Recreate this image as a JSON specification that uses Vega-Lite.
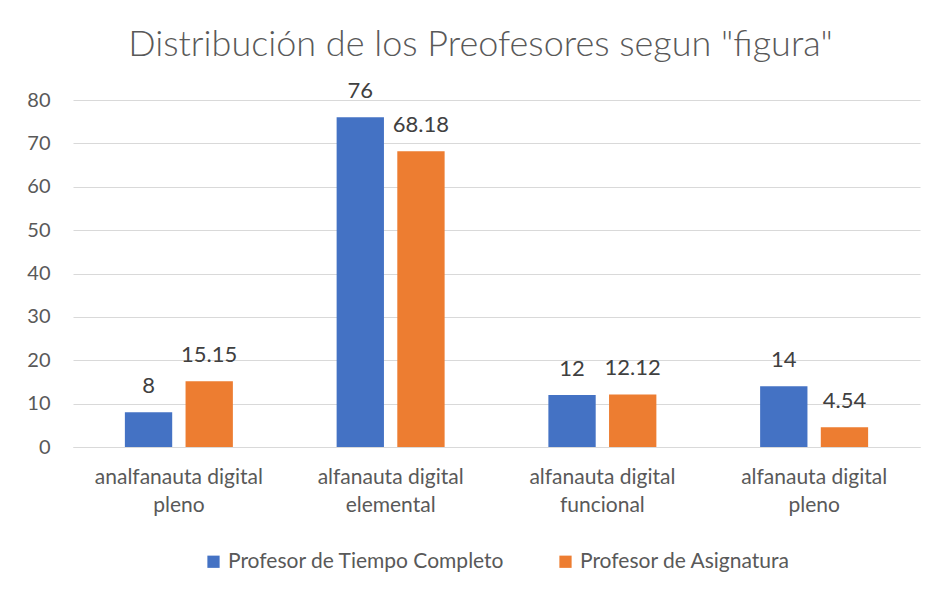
{
  "$schema": "https://vega.github.io/schema/vega-lite/v6.json",
  "width": 847,
  "height": 347,
  "autosize": {"type": "none"},
  "padding": {"left": 73, "top": 100, "right": 18, "bottom": 151},
  "background": "white",
  "title": {
    "text": "Distribución de los Preofesores segun \"figura\"",
    "anchor": "middle",
    "frame": "group",
    "dx": -16,
    "offset": 16,
    "font": "Lato",
    "fontSize": 36,
    "fontWeight": "300",
    "color": "#595959"
  },
  "data": {
    "values": [
      {"categoria": "analfanauta digital pleno", "serie": "Profesor de Tiempo Completo", "valor": 8},
      {"categoria": "analfanauta digital pleno", "serie": "Profesor de Asignatura", "valor": 15.15},
      {"categoria": "alfanauta digital elemental", "serie": "Profesor de Tiempo Completo", "valor": 76},
      {"categoria": "alfanauta digital elemental", "serie": "Profesor de Asignatura", "valor": 68.18},
      {"categoria": "alfanauta digital funcional", "serie": "Profesor de Tiempo Completo", "valor": 12},
      {"categoria": "alfanauta digital funcional", "serie": "Profesor de Asignatura", "valor": 12.12},
      {"categoria": "alfanauta digital pleno", "serie": "Profesor de Tiempo Completo", "valor": 14},
      {"categoria": "alfanauta digital pleno", "serie": "Profesor de Asignatura", "valor": 4.54}
    ]
  },
  "encoding": {
    "x": {
      "field": "categoria",
      "type": "nominal",
      "sort": null,
      "scale": {"paddingInner": 0.49, "paddingOuter": 0.245},
      "axis": {
        "title": null,
        "labelAngle": 0,
        "labelExpr": "split(replace(datum.label, 'digital ', 'digital|'), '|')",
        "labelFont": "Lato",
        "labelFontSize": 21,
        "labelColor": "#595959",
        "labelLineHeight": 28,
        "labelPadding": 19,
        "labelBaseline": "top",
        "labelLimit": 0,
        "ticks": false,
        "domain": true,
        "domainColor": "#d9d9d9",
        "domainWidth": 1,
        "grid": false
      }
    },
    "xOffset": {
      "field": "serie",
      "type": "nominal",
      "sort": ["Profesor de Tiempo Completo", "Profesor de Asignatura"],
      "scale": {"paddingInner": 0.22}
    },
    "y": {
      "field": "valor",
      "type": "quantitative",
      "scale": {"domain": [0, 80], "nice": false},
      "axis": {
        "title": null,
        "values": [0, 10, 20, 30, 40, 50, 60, 70, 80],
        "labelFont": "Lato",
        "labelFontSize": 20,
        "labelColor": "#595959",
        "labelPadding": 23,
        "ticks": false,
        "domain": false,
        "grid": true,
        "gridColor": "#d9d9d9",
        "gridWidth": 1
      }
    }
  },
  "layer": [
    {
      "mark": {"type": "bar"},
      "encoding": {
        "color": {
          "field": "serie",
          "type": "nominal",
          "sort": ["Profesor de Tiempo Completo", "Profesor de Asignatura"],
          "scale": {
            "domain": ["Profesor de Tiempo Completo", "Profesor de Asignatura"],
            "range": ["#4472C4", "#ED7D31"]
          },
          "legend": {
            "title": null,
            "orient": "bottom",
            "direction": "horizontal",
            "offset": 36,
            "symbolType": "square",
            "symbolSize": 150,
            "symbolStrokeWidth": 0,
            "labelFont": "Lato",
            "labelFontSize": 21,
            "labelColor": "#595959",
            "labelOffset": 4,
            "labelLimit": 0,
            "columnPadding": 50
          }
        }
      }
    },
    {
      "mark": {
        "type": "text",
        "baseline": "alphabetic",
        "dy": -19,
        "font": "Lato",
        "fontSize": 22,
        "color": "#404040"
      },
      "encoding": {
        "text": {"field": "valor", "type": "quantitative"}
      }
    }
  ],
  "config": {
    "view": {"stroke": null},
    "legend": {"layout": {"bottom": {"anchor": "middle"}}}
  }
}
